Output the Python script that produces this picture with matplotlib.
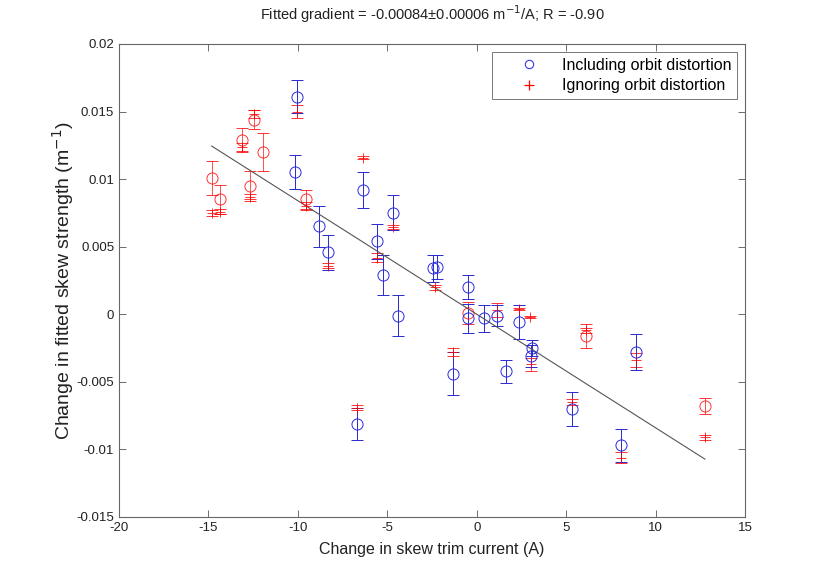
import matplotlib
matplotlib.use("Agg")
import matplotlib.pyplot as plt
from matplotlib.lines import Line2D
import numpy as np

plt.rcParams['font.family'] = ['Liberation Sans', 'DejaVu Sans']
plt.rcParams['axes.unicode_minus'] = False

# Including orbit distortion (blue circles)
inc_x = [-10.03, -10.16, -8.80, -8.33, -6.34, -5.59, -5.26, -4.66, -4.42, -2.42,
         -2.24, -0.47, -0.47, 0.43, 1.12, 2.37, -1.31, 1.64, 3.07, 3.02,
         8.89, 5.35, 8.07, -6.71]
inc_y = [0.0161, 0.0105, 0.0065, 0.0046, 0.0092, 0.0054, 0.0029, 0.0075, -0.0001, 0.0034,
         0.0035, 0.0020, -0.0003, -0.0003, -0.0001, -0.0006, -0.0044, -0.0042, -0.0025, -0.0031,
         -0.0028, -0.0070, -0.0097, -0.0081]
inc_err = [0.0012, 0.00125, 0.0015, 0.0013, 0.00135, 0.0013, 0.0015, 0.0013, 0.0015, 0.0010,
           0.0009, 0.0009, 0.00105, 0.0010, 0.0008, 0.00125, 0.0016, 0.00085, 0.0006, 0.0008,
           0.00135, 0.00125, 0.0012, 0.0012]

# Including orbit distortion, points drawn in red circles
inc_red_x = [-14.82, -14.34, -13.14, -12.67, -12.43, -11.93, -9.56, -0.47, 6.09, 12.76]
inc_red_y = [0.0101, 0.0085, 0.0129, 0.0095, 0.0144, 0.0120, 0.0085, 0.0001, -0.0016, -0.0068]
inc_red_err = [0.00125, 0.0011, 0.0009, 0.0011, 0.0007, 0.0014, 0.0007, 0.0008, 0.0009, 0.0006]

# Ignoring orbit distortion (red plus)
ign_x = [-14.82, -14.34, -13.14, -12.67, -12.43, -10.03, -9.56, -8.33, -6.34, -5.59,
         -4.66, -2.33, 1.12, 2.37, 2.98, -1.31, 3.02, 6.09, 8.89, 5.35,
         8.07, 12.76, -6.71]
ign_y = [0.0075, 0.0076, 0.0124, 0.0087, 0.0148, 0.0150, 0.0080, 0.0036, 0.0116, 0.0042,
         0.00645, 0.0020, 0.0003, 0.0004, -0.0002, -0.0028, -0.0037, -0.0012, -0.0034, -0.0065,
         -0.0106, -0.0091, -0.0069]
ign_err = [0.0002, 0.0002, 0.0003, 0.0002, 0.0003, 0.0005, 0.0003, 0.0002, 0.0001, 0.0003,
           0.00015, 0.0002, 0.0005, 0.0001, 0.0001, 0.0003, 0.0005, 0.0002, 0.0005, 0.0002,
           0.0004, 0.0002, 0.0002]

fit_gradient = -0.00084
fit_intercept = 0.0

fig = plt.figure(figsize=(8.23, 5.72), dpi=100)
ax = fig.add_axes([0.1446, 0.0962, 0.7606, 0.8269])

ax.errorbar(ign_x, ign_y, yerr=ign_err, fmt='+', color='red', ecolor='red',
            markersize=7, mew=0.7, elinewidth=0.6, capsize=4, capthick=0.6, alpha=0.8)
ax.errorbar(inc_red_x, inc_red_y, yerr=inc_red_err, fmt='o', mfc='none', mec='red',
            ecolor='red', markersize=8, mew=0.7, elinewidth=0.6, capsize=4, capthick=0.6, alpha=0.8)
ax.errorbar(inc_x, inc_y, yerr=inc_err, fmt='o', mfc='none', mec='#2a2ae0',
            ecolor='#2828d0', markersize=8, mew=0.7, elinewidth=0.7, capsize=4, capthick=0.7)

all_x = np.array(inc_x + inc_red_x)
xl = np.array([all_x.min(), all_x.max()])
ax.plot(xl, fit_gradient * xl + fit_intercept, color='#555555', lw=0.8)

ax.set_xlim(-20, 15)
ax.set_ylim(-0.015, 0.02)
ax.set_xticks(np.arange(-20, 16, 5))
ax.set_yticks([-0.015, -0.01, -0.005, 0, 0.005, 0.01, 0.015, 0.02])
ax.set_yticklabels(['-0.015', '-0.01', '-0.005', '0', '0.005', '0.01', '0.015', '0.02'])
ax.tick_params(direction='in', top=True, right=True, labelsize=9.5, length=5,
               width=0.6, color='#555555', labelcolor='#222222')
for s in ax.spines.values():
    s.set_linewidth(0.8)
    s.set_color('#666666')

ax.set_xlabel('Change in skew trim current (A)', fontsize=11.5, color='#222222', labelpad=6)
ax.set_ylabel('Change in fitted skew strength (m$^{-1}$)', fontsize=14, color='#222222', labelpad=0)
ax.set_title('Fitted gradient = -0.00084\u00b10.00006 m$^{-1}$/A; R = -0.90',
             fontsize=10.5, color='#222222', pad=17)

handles = [Line2D([], [], ls='none', marker='o', mfc='none', mec='#3a3ae8', markersize=6, mew=0.8),
           Line2D([], [], ls='none', marker='+', color='red', mec='red', markersize=7, mew=0.9)]
leg = ax.legend(handles, ['Including orbit distortion', 'Ignoring orbit distortion'],
                loc='upper right', fontsize=11.5, frameon=True, fancybox=False,
                edgecolor='#555555', borderaxespad=0.5, handletextpad=0.1,
                handlelength=3.9, borderpad=0.35, labelspacing=0.35)
leg.get_frame().set_linewidth(0.7)

fig.savefig('out.png', dpi=100)
